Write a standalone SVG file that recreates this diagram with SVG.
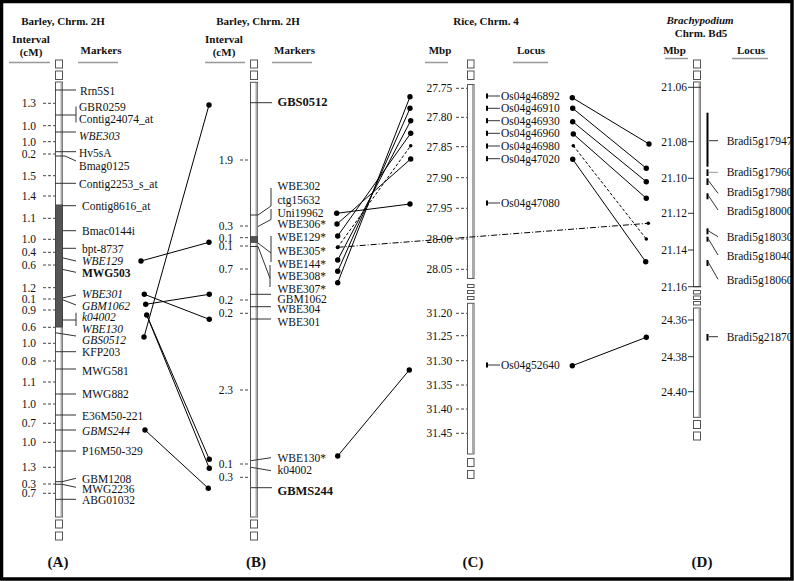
<svg xmlns="http://www.w3.org/2000/svg" width="794" height="581" viewBox="0 0 794 581">
<style>
text{font-family:"Liberation Serif","Times New Roman",serif;fill:#111}
.t{font-size:11.5px}
.it{font-style:italic}
.bd{font-weight:bold}
.big{font-size:12.5px;font-weight:bold}
.h{font-size:11px;font-weight:bold;text-anchor:middle}
.pl{font-size:15px;font-weight:bold;text-anchor:middle}
.num{font-size:11.5px;text-anchor:end}
.tk{stroke:#444;stroke-width:1;stroke-dasharray:3 2}
.tks{stroke:#333;stroke-width:1}
.ul{stroke:#999;stroke-width:1.5}
.ml{stroke:#333;stroke-width:1;fill:none}
.chr{fill:#fff;stroke:#555;stroke-width:1}
.gr{stroke:#aaa;stroke-width:2}
.cn{stroke:#000;stroke-width:1;fill:none}
.dsh{stroke-dasharray:3 2}
.dd{stroke-dasharray:6 2 1 2}
.bar{fill:#000}
</style>
<rect width="794" height="581" fill="#fff"/>

<!-- Panel A -->
<g id="panelA-head">
<text class="h" x="63" y="24.5">Barley, Chrm. 2H</text>
<text class="h" x="31" y="43">Interval</text>
<text class="h" x="31" y="56">(cM)</text>
<text class="h" x="101" y="54">Markers</text>
<line class="ul" x1="9" y1="62.5" x2="50" y2="62.5"/>
<line class="ul" x1="78" y1="62.5" x2="118" y2="62.5"/>
</g>
<g id="chrA">
<rect class="chr" x="55.5" y="60" width="7" height="8"/>
<rect class="chr" x="55.5" y="71" width="7" height="8.5"/>
<rect class="chr" x="55.5" y="82" width="7" height="435"/>
<line class="gr" x1="61.5" y1="82.5" x2="61.5" y2="516.5"/>
<rect x="55.5" y="205" width="7" height="122" fill="#555" stroke="#444"/>
<rect class="chr" x="55.5" y="520" width="7" height="8"/>
<rect class="chr" x="55.5" y="532" width="7" height="8"/>
</g>
<g id="ticksA">
<g class="tk">
<line x1="43" y1="103.3" x2="55" y2="103.3"/><line x1="43" y1="125.7" x2="55" y2="125.7"/><line x1="43" y1="141.7" x2="55" y2="141.7"/><line x1="43" y1="154" x2="55" y2="154"/><line x1="43" y1="175.7" x2="55" y2="175.7"/><line x1="43" y1="196" x2="55" y2="196"/><line x1="43" y1="218.3" x2="55" y2="218.3"/><line x1="43" y1="239.3" x2="55" y2="239.3"/><line x1="43" y1="252.3" x2="55" y2="252.3"/><line x1="43" y1="265" x2="55" y2="265"/><line x1="43" y1="287.7" x2="55" y2="287.7"/><line x1="43" y1="299" x2="55" y2="299"/><line x1="43" y1="310" x2="55" y2="310"/><line x1="43" y1="327.3" x2="55" y2="327.3"/><line x1="43" y1="343.3" x2="55" y2="343.3"/><line x1="43" y1="361" x2="55" y2="361"/><line x1="43" y1="382" x2="55" y2="382"/><line x1="43" y1="404" x2="55" y2="404"/><line x1="43" y1="423.3" x2="55" y2="423.3"/><line x1="43" y1="442.3" x2="55" y2="442.3"/><line x1="43" y1="467.3" x2="55" y2="467.3"/><line x1="43" y1="484" x2="55" y2="484"/><line x1="43" y1="493.3" x2="55" y2="493.3"/>
</g>
<text class="num" x="36" y="107.1">1.3</text><text class="num" x="36" y="129.5">1.0</text><text class="num" x="36" y="145.5">1.0</text><text class="num" x="36" y="157.8">0.2</text><text class="num" x="36" y="179.5">1.5</text><text class="num" x="36" y="199.8">1.4</text><text class="num" x="36" y="222.1">1.1</text><text class="num" x="36" y="243.1">1.0</text><text class="num" x="36" y="256.1">0.4</text><text class="num" x="36" y="268.8">0.6</text><text class="num" x="36" y="291.5">1.2</text><text class="num" x="36" y="302.8">0.1</text><text class="num" x="36" y="313.8">0.9</text><text class="num" x="36" y="331.1">0.6</text><text class="num" x="36" y="347.1">1.0</text><text class="num" x="36" y="364.8">0.8</text><text class="num" x="36" y="385.8">1.1</text><text class="num" x="36" y="407.8">1.0</text><text class="num" x="36" y="427.1">0.7</text><text class="num" x="36" y="446.1">1.0</text><text class="num" x="36" y="471.1">1.3</text><text class="num" x="36" y="487.8">0.3</text><text class="num" x="36" y="497.1">0.7</text>
</g>
<g id="markersA">
<g class="ml">
<line x1="55" y1="90" x2="76" y2="90"/>
<path d="M55 115H76M76 106.5V122.5"/>
<line x1="55" y1="132" x2="76" y2="132"/>
<line x1="55" y1="151.7" x2="76" y2="151.7"/>
<path d="M55 156H65L76 161"/>
<line x1="55" y1="183.3" x2="76" y2="183.3"/>
<line x1="62" y1="205.7" x2="76" y2="205.7"/>
<line x1="62" y1="230.7" x2="76" y2="230.7"/>
<line x1="62" y1="248.3" x2="76" y2="248.3"/>
<line x1="62" y1="257.7" x2="76" y2="261"/>
<line x1="62" y1="269.3" x2="76" y2="272.3"/>
<line x1="62" y1="298" x2="76" y2="295"/>
<line x1="62" y1="299.5" x2="76" y2="305"/>
<path d="M62 320H76M76 312.7V326"/>
<line x1="55" y1="332.7" x2="76" y2="336"/>
<line x1="55" y1="351.7" x2="76" y2="351.7"/>
<line x1="55" y1="369" x2="76" y2="369"/>
<line x1="55" y1="394" x2="76" y2="394"/>
<line x1="55" y1="415" x2="76" y2="415"/>
<line x1="55" y1="430" x2="76" y2="430"/>
<line x1="55" y1="451" x2="76" y2="451"/>
<path d="M55 481.7H62L76 478.3"/>
<path d="M55 484.3H62L76 487.3"/>
<line x1="55" y1="499.3" x2="76" y2="499.3"/>
</g>
<text class="t" x="80" y="94.5">Rrn5S1</text>
<text class="t" x="79" y="110.8">GBR0259</text>
<text class="t" x="79" y="123.3">Contig24074_at</text>
<text class="t it" x="79" y="139.5">WBE303</text>
<text class="t" x="79" y="156.8">Hv5sA</text>
<text class="t" x="79" y="169.8">Bmag0125</text>
<text class="t" x="79" y="187.8">Contig2253_s_at</text>
<text class="t" x="82" y="209.5">Contig8616_at</text>
<text class="t" x="82" y="234.5">Bmac0144i</text>
<text class="t" x="82" y="252.8">bpt-8737</text>
<text class="t it" x="82" y="264.8">WBE129</text>
<text class="t bd" x="82" y="276.5">MWG503</text>
<text class="t it" x="82" y="298.1">WBE301</text>
<text class="t it" x="82" y="309.5">GBM1062</text>
<text class="t it" x="82" y="320.5">k04002</text>
<text class="t it" x="82" y="332.5">WBE130</text>
<text class="t it" x="82" y="343.8">GBS0512</text>
<text class="t" x="82" y="356.1">KFP203</text>
<text class="t" x="82" y="374.8">MWG581</text>
<text class="t" x="82" y="398.1">MWG882</text>
<text class="t" x="82" y="419.5">E36M50-221</text>
<text class="t it" x="82" y="434.8">GBMS244</text>
<text class="t" x="82" y="454.8">P16M50-329</text>
<text class="t" x="82" y="483.1">GBM1208</text>
<text class="t" x="82" y="492.8">MWG2236</text>
<text class="t" x="82" y="503.8">ABG01032</text>
</g>
<text class="pl" x="58" y="567">(A)</text>

<!-- Panel B -->
<g id="panelB-head">
<text class="h" x="258" y="24.5">Barley, Chrm. 2H</text>
<text class="h" x="224" y="43">Interval</text>
<text class="h" x="224" y="56">(cM)</text>
<text class="h" x="294.5" y="54">Markers</text>
<line class="ul" x1="205" y1="62.5" x2="245" y2="62.5"/>
<line class="ul" x1="272" y1="62.5" x2="312" y2="62.5"/>
</g>
<g id="chrB">
<rect class="chr" x="250.5" y="60" width="7" height="8"/>
<rect class="chr" x="250.5" y="71" width="7" height="8.5"/>
<rect class="chr" x="250.5" y="82.3" width="7" height="434.7"/>
<line class="gr" x1="256.5" y1="83" x2="256.5" y2="516.5"/>
<rect x="250.5" y="236.7" width="7" height="5.6" fill="#555" stroke="#444"/>
<rect class="chr" x="250.5" y="520" width="7" height="8"/>
<rect class="chr" x="250.5" y="532" width="7" height="8"/>
</g>
<g id="ticksB">
<g class="tk">
<line x1="240" y1="160" x2="250" y2="160"/><line x1="240" y1="226" x2="250" y2="226"/><line x1="240" y1="237.7" x2="250" y2="237.7"/><line x1="240" y1="246" x2="250" y2="246"/><line x1="240" y1="269" x2="250" y2="269"/><line x1="240" y1="300" x2="250" y2="300"/><line x1="240" y1="313.3" x2="250" y2="313.3"/><line x1="240" y1="390" x2="250" y2="390"/><line x1="240" y1="464" x2="250" y2="464"/><line x1="240" y1="477.3" x2="250" y2="477.3"/>
</g>
<text class="num" x="233" y="163.8">1.9</text><text class="num" x="233" y="229.8">0.3</text><text class="num" x="233" y="241.5">0.1</text><text class="num" x="233" y="249.8">0.1</text><text class="num" x="233" y="272.8">0.7</text><text class="num" x="233" y="303.8">0.2</text><text class="num" x="233" y="317.1">0.2</text><text class="num" x="233" y="393.8">2.3</text><text class="num" x="233" y="467.8">0.1</text><text class="num" x="233" y="481.1">0.3</text>
</g>
<g id="markersB">
<g class="ml">
<line x1="250" y1="102.7" x2="272" y2="102.7"/>
<path d="M271 188V206L258 215H250"/>
<path d="M271 209V219.5L258 226.5"/>
<path d="M271 236V262M258 243L271 253"/>
<path d="M270 265V287M258 246.5L270 278.3"/>
<line x1="250" y1="246.5" x2="258" y2="246.5"/>
<line x1="250" y1="294.3" x2="271" y2="294.3"/>
<line x1="250" y1="306.7" x2="271" y2="306.7"/>
<line x1="250" y1="319" x2="271" y2="319"/>
<line x1="251" y1="460.7" x2="271" y2="457.7"/>
<line x1="251" y1="467.3" x2="271" y2="470.7"/>
<line x1="251" y1="487.7" x2="272" y2="487.7"/>
</g>
<text class="big" x="277.5" y="105.5">GBS0512</text>
<text class="t" x="277.5" y="189.5">WBE302</text>
<text class="t" x="277.5" y="203.8">ctg15632</text>
<text class="t" x="277.5" y="217.1">Uni19962</text>
<text class="t" x="277.5" y="228.1">WBE306*</text>
<text class="t" x="277.5" y="240.5">WBE129*</text>
<text class="t" x="277.5" y="254.8">WBE305*</text>
<text class="t" x="277.5" y="267.8">WBE144*</text>
<text class="t" x="277.5" y="279.5">WBE308*</text>
<text class="t" x="277.5" y="292.8">WBE307*</text>
<text class="t" x="277.5" y="302.8">GBM1062</text>
<text class="t" x="277.5" y="312.8">WBE304</text>
<text class="t" x="277.5" y="326.1">WBE301</text>
<text class="t" x="277.5" y="462.1">WBE130*</text>
<text class="t" x="277.5" y="473.8">k04002</text>
<text class="big" x="277.5" y="494.5">GBMS244</text>
</g>
<text class="pl" x="256" y="567">(B)</text>

<!-- Panel C -->
<g id="panelC-head">
<text class="h" x="486" y="24.5">Rice, Chrm. 4</text>
<text class="h" x="440" y="54">Mbp</text>
<text class="h" x="531" y="54">Locus</text>
<line class="ul" x1="425" y1="62.5" x2="448" y2="62.5"/>
<line class="ul" x1="513" y1="62.5" x2="548" y2="62.5"/>
</g>
<g id="chrC">
<rect class="chr" x="467.5" y="60" width="6.5" height="8"/>
<rect class="chr" x="467.5" y="71" width="6.5" height="8.5"/>
<rect class="chr" x="467.5" y="84.5" width="6.5" height="194"/>
<line class="gr" x1="473" y1="85" x2="473" y2="278"/>
<rect class="chr" x="467.5" y="284.5" width="6.5" height="3"/>
<rect class="chr" x="467.5" y="290.5" width="6.5" height="3"/>
<rect class="chr" x="467.5" y="296.5" width="6.5" height="3"/>
<rect class="chr" x="467.5" y="303.3" width="6.5" height="150.7"/>
<line class="gr" x1="473" y1="304" x2="473" y2="453.5"/>
<rect class="chr" x="467.5" y="458.5" width="6.5" height="8"/>
<rect class="chr" x="467.5" y="470.5" width="6.5" height="8"/>
</g>
<g id="ticksC">
<g class="tk">
<line x1="456" y1="88.3" x2="467" y2="88.3"/><line x1="456" y1="117.3" x2="467" y2="117.3"/><line x1="456" y1="146.7" x2="467" y2="146.7"/><line x1="456" y1="177.7" x2="467" y2="177.7"/><line x1="456" y1="208.3" x2="467" y2="208.3"/><line x1="456" y1="239" x2="467" y2="239"/><line x1="456" y1="269.3" x2="467" y2="269.3"/><line x1="456" y1="313.3" x2="467" y2="313.3"/><line x1="456" y1="335.7" x2="467" y2="335.7"/><line x1="456" y1="360.7" x2="467" y2="360.7"/><line x1="456" y1="385" x2="467" y2="385"/><line x1="456" y1="409" x2="467" y2="409"/><line x1="456" y1="433.3" x2="467" y2="433.3"/>
</g>
<text class="num" x="452.3" y="92.1">27.75</text><text class="num" x="452.3" y="121.1">27.80</text><text class="num" x="452.3" y="150.5">27.85</text><text class="num" x="452.3" y="181.5">27.90</text><text class="num" x="452.3" y="212.1">27.95</text><text class="num" x="452.3" y="242.8">28.00</text><text class="num" x="452.3" y="273.1">28.05</text><text class="num" x="452.3" y="317.1">31.20</text><text class="num" x="452.3" y="339.5">31.25</text><text class="num" x="452.3" y="364.5">31.30</text><text class="num" x="452.3" y="388.8">31.35</text><text class="num" x="452.3" y="412.8">31.40</text><text class="num" x="452.3" y="437.1">31.45</text>
</g>
<g id="lociC">
<g class="bar">
<rect x="486" y="93.5" width="2" height="5"/><rect x="486" y="105.8" width="2" height="5"/><rect x="486" y="118.2" width="2" height="5"/><rect x="486" y="130.8" width="2" height="5"/><rect x="486" y="143.5" width="2" height="5"/><rect x="486" y="156.2" width="2" height="5"/><rect x="486" y="200.5" width="2" height="5"/><rect x="486" y="362.5" width="2" height="5"/>
</g>
<g class="ml">
<line x1="488" y1="96" x2="500" y2="96"/><line x1="488" y1="108.3" x2="500" y2="108.3"/><line x1="488" y1="120.7" x2="500" y2="120.7"/><line x1="488" y1="133.3" x2="500" y2="133.3"/><line x1="488" y1="146" x2="500" y2="146"/><line x1="488" y1="158.7" x2="500" y2="158.7"/><line x1="488" y1="203" x2="500" y2="203"/><line x1="488" y1="365" x2="500" y2="365"/>
</g>
<text class="t" x="501" y="99.8">Os04g46892</text>
<text class="t" x="501" y="112.1">Os04g46910</text>
<text class="t" x="501" y="124.5">Os04g46930</text>
<text class="t" x="501" y="137.1">Os04g46960</text>
<text class="t" x="501" y="149.8">Os04g46980</text>
<text class="t" x="501" y="162.5">Os04g47020</text>
<text class="t" x="501" y="207.1">Os04g47080</text>
<text class="t" x="501" y="368.8">Os04g52640</text>
</g>
<text class="pl" x="473" y="567">(C)</text>

<!-- Panel D -->
<g id="panelD-head">
<text class="h it" x="700" y="24">Brachypodium</text>
<text class="h" x="701" y="36.7">Chrm. Bd5</text>
<text class="h" x="674.5" y="54">Mbp</text>
<text class="h" x="751" y="54">Locus</text>
<line class="ul" x1="665" y1="58.5" x2="688" y2="58.5"/>
<line class="ul" x1="732" y1="58.5" x2="768" y2="58.5"/>
</g>
<g id="chrD">
<rect class="chr" x="693.5" y="60" width="7" height="8"/>
<rect class="chr" x="693.5" y="71" width="7" height="8.5"/>
<rect class="chr" x="693.5" y="82" width="7" height="204.7"/>
<line class="gr" x1="699.5" y1="82.5" x2="699.5" y2="286"/>
<rect class="chr" x="693.5" y="290.5" width="7" height="3.5"/>
<rect class="chr" x="693.5" y="296" width="7" height="3.5"/>
<rect class="chr" x="693.5" y="301.5" width="7" height="3.5"/>
<rect class="chr" x="693.5" y="308" width="7" height="109.3"/>
<line class="gr" x1="699.5" y1="308.5" x2="699.5" y2="417"/>
<rect class="chr" x="693.5" y="420.5" width="7" height="8"/>
<rect class="chr" x="693.5" y="432" width="7" height="8"/>
</g>
<g id="ticksD">
<g class="tks">
<line x1="688" y1="87.3" x2="701" y2="87.3"/><line x1="688" y1="141.7" x2="694" y2="141.7"/><line x1="688" y1="178.3" x2="694" y2="178.3"/><line x1="688" y1="213.3" x2="694" y2="213.3"/><line x1="688" y1="250" x2="694" y2="250"/><line x1="688" y1="286.7" x2="701" y2="286.7"/><line x1="688" y1="320" x2="694" y2="320"/><line x1="688" y1="356.7" x2="694" y2="356.7"/><line x1="688" y1="391.7" x2="694" y2="391.7"/>
</g>
<text class="num" x="687" y="91.1">21.06</text><text class="num" x="687" y="145.5">21.08</text><text class="num" x="687" y="182.1">21.10</text><text class="num" x="687" y="217.1">21.12</text><text class="num" x="687" y="253.8">21.14</text><text class="num" x="687" y="290.5">21.16</text><text class="num" x="687" y="323.8">24.36</text><text class="num" x="687" y="360.5">24.38</text><text class="num" x="687" y="395.5">24.40</text>
</g>
<g id="lociD">
<g class="bar">
<rect x="706.5" y="112.7" width="2" height="54"/>
<rect x="706.5" y="169.3" width="2" height="6.7"/>
<rect x="706.5" y="178.3" width="2" height="6.7"/>
<rect x="706.5" y="193.3" width="2" height="6"/>
<rect x="706.5" y="228.3" width="2" height="6"/>
<rect x="706.5" y="236.7" width="2" height="5"/>
<rect x="706.5" y="260" width="2" height="6"/>
<rect x="706.5" y="334" width="2" height="6.7"/>
</g>
<g class="ml">
<line x1="709" y1="140.7" x2="718" y2="140.7"/>
<line x1="709" y1="172.3" x2="718" y2="172.3" stroke="#999"/>
<line x1="708" y1="180" x2="718" y2="193.3"/>
<line x1="708" y1="195" x2="718" y2="210"/>
<line x1="708" y1="230.7" x2="718" y2="236.7"/>
<line x1="708" y1="238.3" x2="718" y2="255"/>
<line x1="708" y1="261.7" x2="718" y2="279.3"/>
<line x1="709" y1="336.7" x2="718" y2="336.7"/>
</g>
<text class="t" x="726.7" y="144.8">Bradi5g17947</text>
<text class="t" x="726.7" y="176.1">Bradi5g17960</text>
<text class="t" x="726.7" y="195.5">Bradi5g17980</text>
<text class="t" x="726.7" y="214.5">Bradi5g18000</text>
<text class="t" x="726.7" y="240.5">Bradi5g18030</text>
<text class="t" x="726.7" y="259.5">Bradi5g18040</text>
<text class="t" x="726.7" y="283.8">Bradi5g18060</text>
<text class="t" x="726.7" y="341.1">Bradi5g21870</text>
</g>
<text class="pl" x="702" y="567">(D)</text>

<!-- Connectors -->
<g id="connectors">
<g class="cn">
<line x1="144" y1="337" x2="209" y2="105"/>
<line x1="141" y1="261" x2="209" y2="242.3"/>
<line x1="144.3" y1="294.3" x2="209.3" y2="319.3"/>
<line x1="145.7" y1="304.3" x2="209.3" y2="294.3"/>
<line x1="146.7" y1="315" x2="209.3" y2="459.3"/>
<line x1="146.7" y1="315" x2="209.3" y2="468.3"/>
<line x1="145" y1="430" x2="208.3" y2="488.3"/>
<line x1="336.7" y1="213.3" x2="410" y2="204"/>
<line x1="337" y1="224" x2="410.7" y2="159"/>
<line x1="337.7" y1="236" x2="410.7" y2="133.3"/>
<line x1="337.7" y1="247.3" x2="410.7" y2="145.7" class="cn dsh"/>
<line x1="337.7" y1="260" x2="410.7" y2="120.7"/>
<line x1="337.7" y1="271.3" x2="410" y2="108.3"/>
<line x1="337.7" y1="282.7" x2="410" y2="96.7"/>
<line x1="337.7" y1="456" x2="409.3" y2="370"/>
<line x1="337.7" y1="247.3" x2="648.3" y2="223.3" class="cn dd"/>
<line x1="572.3" y1="97.7" x2="649" y2="144"/>
<line x1="572.7" y1="108.3" x2="646.3" y2="168.3"/>
<line x1="572.7" y1="121.7" x2="646.3" y2="181.7"/>
<line x1="573.3" y1="134" x2="646.3" y2="198.3"/>
<line x1="573.3" y1="145.7" x2="646.3" y2="239" class="cn dsh"/>
<line x1="572.7" y1="159.3" x2="645.7" y2="261.7"/>
<line x1="572.3" y1="365.7" x2="646.3" y2="337.3"/>
</g>
<g fill="#000">
<circle cx="144" cy="337" r="2.7"/><circle cx="209" cy="105" r="2.7"/>
<circle cx="141" cy="261" r="2.7"/><circle cx="209" cy="242.3" r="2.7"/>
<circle cx="144.3" cy="294.3" r="2.7"/><circle cx="209.3" cy="319.3" r="2.7"/>
<circle cx="145.7" cy="304.3" r="2.7"/><circle cx="209.3" cy="294.3" r="2.7"/>
<circle cx="146.7" cy="315" r="2.7"/><circle cx="209.3" cy="459.3" r="2.7"/><circle cx="209.3" cy="468.3" r="2.7"/>
<circle cx="145" cy="430" r="2.7"/><circle cx="208.3" cy="488.3" r="2.7"/>
<circle cx="336.7" cy="213.3" r="2.7"/><circle cx="337" cy="224" r="2.7"/><circle cx="337.7" cy="236" r="2.7"/><circle cx="337.7" cy="247.3" r="2"/><circle cx="337.7" cy="260" r="2.7"/><circle cx="337.7" cy="271.3" r="2.7"/><circle cx="337.7" cy="282.7" r="2.7"/><circle cx="337.7" cy="456" r="2.7"/>
<circle cx="410" cy="96.7" r="2.7"/><circle cx="410" cy="108.3" r="2.7"/><circle cx="410.7" cy="120.7" r="2.7"/><circle cx="410.7" cy="133.3" r="2.7"/><circle cx="410.7" cy="145.7" r="1.8"/><circle cx="410.7" cy="159" r="2.7"/><circle cx="410" cy="204" r="2.7"/><circle cx="409.3" cy="370" r="2.7"/>
<circle cx="572.3" cy="97.7" r="2.7"/><circle cx="572.7" cy="108.3" r="2.7"/><circle cx="572.7" cy="121.7" r="2.7"/><circle cx="573.3" cy="134" r="2.7"/><circle cx="573.3" cy="145.7" r="1.8"/><circle cx="572.7" cy="159.3" r="2.7"/><circle cx="572.3" cy="365.7" r="2.7"/>
<circle cx="649" cy="144" r="2.7"/><circle cx="646.3" cy="168.3" r="2.7"/><circle cx="646.3" cy="181.7" r="2.7"/><circle cx="646.3" cy="198.3" r="2.7"/><circle cx="648.3" cy="223.3" r="1.8"/><circle cx="646.3" cy="239" r="1.8"/><circle cx="645.7" cy="261.7" r="2.7"/><circle cx="646.3" cy="337.3" r="2.7"/>
</g>
</g>

<rect id="frame" x="1.5" y="1.5" width="790.5" height="577.5" fill="none" stroke="#000" stroke-width="3.5"/>
</svg>
